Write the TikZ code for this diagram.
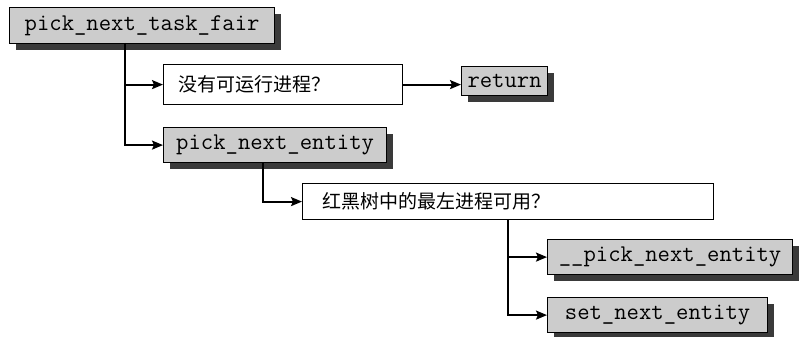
\documentclass[tikz,border=0pt]{standalone}
\usepackage{fontspec}
\newfontfamily\cjk{Noto Sans CJK SC}
\usetikzlibrary{arrows.meta,shadows}
\definecolor{boxgray}{RGB}{204,204,204}
\definecolor{shadowgray}{RGB}{58,58,58}
\begin{document}
\begin{tikzpicture}[x=1pt,y=-1pt,
  gbox/.style={draw=black, line width=1.2pt, fill=boxgray, inner sep=0pt, anchor=north west,
    font=\ttfamily\fontsize{24}{26}\selectfont,
    drop shadow={shadow xshift=6pt, shadow yshift=-6pt, fill=shadowgray, opacity=1}},
  wbox/.style={draw=black, line width=1.2pt, fill=white, anchor=north west, inner ysep=0pt,
    align=left, font=\cjk\fontsize{19}{22}\selectfont},
  conn/.style={line width=2pt, -{Stealth[length=11pt,width=9pt,inset=2pt]}}]
\useasboundingbox (0,0) rectangle (800,337);

\node[gbox, minimum width=265pt, minimum height=36pt] (n1) at (9,7) {pick\_next\_task\_fair};
\node[wbox, inner xsep=15pt, text width=209pt, minimum height=40pt] (q1) at (163,64) {没有可运行进程？};
\node[gbox, minimum width=86pt, minimum height=29pt] (ret) at (461,66) {return};
\node[gbox, minimum width=223pt, minimum height=35pt] (pne) at (163,127) {pick\_next\_entity};
\node[wbox, inner xsep=20pt, text width=371pt, minimum height=36pt] (q2) at (302,183) {红黑树中的最左进程可用？};
\node[gbox, minimum width=245pt, minimum height=35pt] (ppne) at (547,239) {\_\_pick\_next\_entity};
\node[gbox, minimum width=220pt, minimum height=35pt] (sne) at (547,297) {set\_next\_entity};

\coordinate (t1) at (125,43);
\coordinate (t2) at (263,162);
\coordinate (t3) at (508,219);

\draw[conn] (t1) |- (pne.west);
\draw[conn] (t1 |- q1.west) -- (q1.west);
\draw[conn] (q1.east) -- (q1.east -| ret.west);
\draw[conn] (t2) |- (q2.west);
\draw[conn] (t3) |- (sne.west);
\draw[conn] (t3 |- ppne.west) -- (ppne.west);
\end{tikzpicture}
\end{document}
